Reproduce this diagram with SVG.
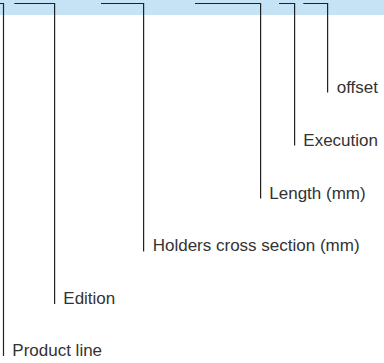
<svg xmlns="http://www.w3.org/2000/svg" width="384" height="363" viewBox="0 0 384 363">
<style>
.bar{fill:#c6e3f6}
.ln{fill:none;stroke:#222;stroke-width:1.2}
.lb{font-family:"Liberation Sans",Arial,sans-serif;font-size:17px;fill:#333}
</style>
<rect class="bar" x="0" y="0" width="384" height="15"/>
<g id="connectors">
<polyline class="ln" points="0,3.5 3.5,3.5 3.5,356"/>
<polyline class="ln" points="14.3,3.5 54.6,3.5 54.6,304"/>
<polyline class="ln" points="101,3.5 143.6,3.5 143.6,251.5"/>
<polyline class="ln" points="195,3.5 260.6,3.5 260.6,198.5"/>
<polyline class="ln" points="279,3.5 294.6,3.5 294.6,145.5"/>
<polyline class="ln" points="303.3,3.5 327.6,3.5 327.6,92.5"/>
</g>
<g id="offset"><text class="lb" x="336.7" y="93">offset</text></g>
<g id="execution"><text class="lb" x="303.3" y="145.8">Execution</text></g>
<g id="length"><text class="lb" x="269.3" y="198.6">Length (mm)</text></g>
<g id="holders"><text class="lb" x="152.7" y="251">Holders cross section (mm)</text></g>
<g id="edition"><text class="lb" x="63.3" y="303.8">Edition</text></g>
<g id="product-line"><text class="lb" x="12.3" y="355.8">Product line</text></g>
</svg>
